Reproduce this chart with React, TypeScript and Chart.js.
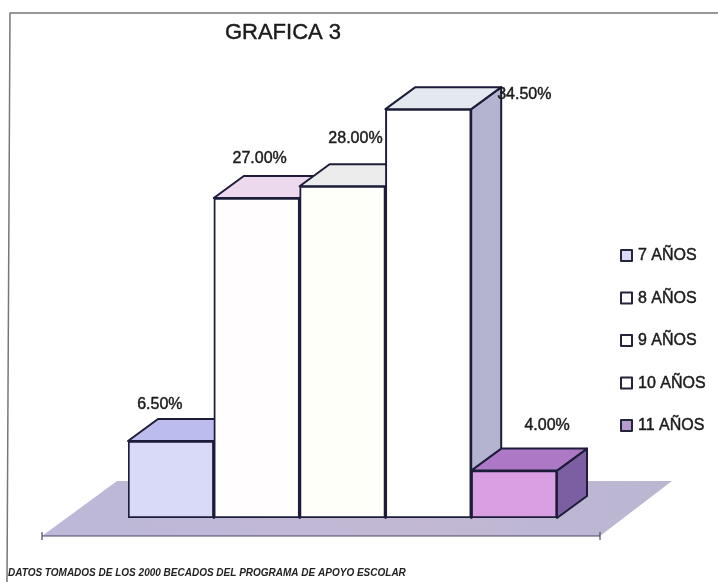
import React, { useEffect, useRef } from "react";
import { Chart, registerables } from "chart.js";

Chart.register(...registerables);

const categories = ["7 AÑOS", "8 AÑOS", "9 AÑOS", "10 AÑOS", "11 AÑOS"];
const values = [6.5, 27, 28, 34.5, 4];
const valueLabels = ["6.50%", "27.00%", "28.00%", "34.50%", "4.00%"];
const frontColors = ["#d9daf8", "#fffdfe", "#fffffa", "#ffffff", "#d99fe2"];
const topColors = ["#bcbcee", "#ecd9ee", "#ececec", "#e4e9f0", "#ad78c6"];
const sideColors = ["#9a9ac8", "#c8c0d8", "#c8c8d0", "#b4b4d0", "#7c5fa2"];
const legendColors = ["#d9daf8", "#fffdfe", "#fffffa", "#ffffff", "#b79ad0"];
const labelOffsets = [
  [-11, -36],
  [3, -39],
  [13, -48],
  [96, -15],
  [33, -45],
];
const titleText = "GRAFICA 3";
const noteText = "DATOS TOMADOS DE LOS 2000 BECADOS DEL PROGRAMA DE APOYO ESCOLAR";

const INK = "#1d1d3a";
const DX = 30;
const DY = -22;
const FONT = '"Liberation Sans", Arial, sans-serif';

function poly(ctx: CanvasRenderingContext2D, pts: number[][], fill: string | null, stroke: string | null, lw = 2) {
  ctx.beginPath();
  pts.forEach((p, i) => (i ? ctx.lineTo(p[0], p[1]) : ctx.moveTo(p[0], p[1])));
  ctx.closePath();
  if (fill) {
    ctx.fillStyle = fill;
    ctx.fill();
  }
  if (stroke) {
    ctx.strokeStyle = stroke;
    ctx.lineWidth = lw;
    ctx.lineJoin = "round";
    ctx.stroke();
  }
}

function heavyText(ctx: CanvasRenderingContext2D, text: string, x: number, y: number, weight = 0.45) {
  ctx.lineWidth = weight;
  ctx.strokeStyle = ctx.fillStyle as string;
  ctx.strokeText(text, x, y);
  ctx.fillText(text, x, y);
}

const depthPlugin = {
  id: "depth",
  beforeDatasetsDraw(chart: any) {
    const { ctx } = chart;
    const bars = chart.getDatasetMeta(0).data;
    const base = chart.scales.y.getPixelForValue(0);
    const left = bars[0].x - bars[0].width / 2;
    const right = bars[4].x + bars[4].width / 2;
    // floor
    const g = ctx.createLinearGradient(left - 86, 0, right + 115, 0);
    g.addColorStop(0, "#bdb8d8");
    g.addColorStop(0.6, "#c2b8d4");
    g.addColorStop(1, "#bab6d2");
    poly(
      ctx,
      [
        [left - 86, base + 18],
        [right + 43, base + 18],
        [right + 115, base - 37],
        [left - 11, base - 37],
      ],
      g,
      null
    );
    ctx.strokeStyle = "#4a4666";
    ctx.lineWidth = 1.2;
    ctx.beginPath();
    ctx.moveTo(left - 86, base + 18);
    ctx.lineTo(right + 43, base + 18);
    ctx.moveTo(right + 43, base + 14);
    ctx.lineTo(right + 43, base + 22);
    ctx.moveTo(left - 86, base + 14);
    ctx.lineTo(left - 86, base + 22);
    ctx.stroke();
    // depth faces
    bars.forEach((b: any, i: number) => {
      const l = b.x - b.width / 2;
      const r = b.x + b.width / 2;
      const t = b.y;
      poly(ctx, [[r, t], [r + DX, t + DY], [r + DX, base + DY], [r, base]], sideColors[i], INK);
      poly(ctx, [[l, t], [l + DX, t + DY], [r + DX, t + DY], [r, t]], topColors[i], INK);
    });
  },
  afterDatasetsDraw(chart: any) {
    const { ctx } = chart;
    const bars = chart.getDatasetMeta(0).data;
    ctx.save();
    ctx.textBaseline = "middle";
    ctx.textAlign = "center";
    ctx.fillStyle = "#1b1b1b";
    ctx.font = `16px ${FONT}`;
    bars.forEach((b: any, i: number) => {
      heavyText(ctx, valueLabels[i], b.x + labelOffsets[i][0], b.y + labelOffsets[i][1]);
    });
    // title
    ctx.font = `22px ${FONT}`;
    heavyText(ctx, titleText, 283, 33);
    // legend
    ctx.textAlign = "left";
    ctx.font = `16px ${FONT}`;
    categories.forEach((c, i) => {
      const y = 255 + i * 42.5;
      ctx.fillStyle = legendColors[i];
      ctx.strokeStyle = "#25253a";
      ctx.lineWidth = 2;
      ctx.fillRect(621, y - 5, 11, 11);
      ctx.strokeRect(621, y - 5, 11, 11);
      ctx.fillStyle = "#1b1b1b";
      heavyText(ctx, c, 638, y + 1);
    });
    // footnote
    ctx.font = `italic bold 10px ${FONT}`;
    ctx.fillStyle = "#222";
    ctx.fillText(noteText, 8, 573);
    // frame
    ctx.strokeStyle = "#777";
    ctx.lineWidth = 1.5;
    ctx.beginPath();
    ctx.moveTo(7, 582);
    ctx.lineTo(10, 13);
    ctx.lineTo(718, 13);
    ctx.stroke();
    ctx.restore();
  },
};

export default function App() {
  const ref = useRef<HTMLCanvasElement>(null);
  useEffect(() => {
    document.body.style.margin = "0";
    document.body.style.background = "#ffffff";
    const chart = new Chart(ref.current!, {
      type: "bar",
      data: {
        labels: categories,
        datasets: [
          {
            data: values,
            backgroundColor: frontColors,
            borderColor: INK,
            borderWidth: 2,
            borderSkipped: false,
            barPercentage: 1,
            categoryPercentage: 1,
          },
        ],
      },
      options: {
        responsive: false,
        animation: false,
        layout: { padding: { left: 128, right: 161, top: 44, bottom: 64 } },
        plugins: { legend: { display: false }, tooltip: { enabled: false } },
        scales: {
          x: { display: false },
          y: { display: false, min: 0, max: 40 },
        },
      },
      plugins: [depthPlugin],
    } as any);
    return () => chart.destroy();
  }, []);
  return <canvas ref={ref} width={718} height={582} style={{ display: "block" }} />;
}
